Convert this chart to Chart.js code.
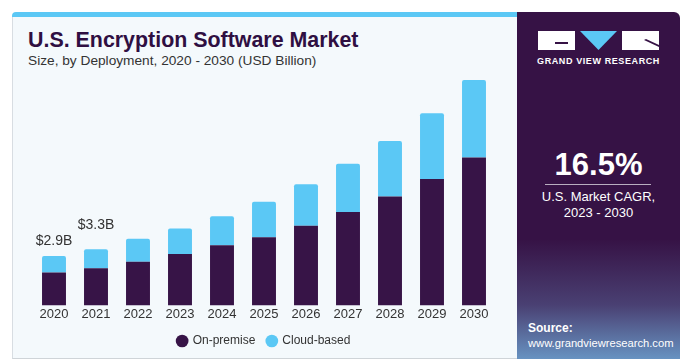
<!DOCTYPE html>
<html>
<head>
<meta charset="utf-8">
<script src="https://cdn.jsdelivr.net/npm/chart.js@4"></script>
<style>
  body { margin: 0; width: 688px; height: 363px; background: #fff; font-family: "Liberation Sans", Arial, sans-serif; position: relative; overflow: hidden; }
  .stripe { position: absolute; left: 12px; top: 12px; width: 505px; height: 5px; background: #5bc8f5; border-top-left-radius: 4px; }
  .left { position: absolute; left: 12px; top: 17px; width: 505px; height: 342px; background: #f4f9fc; border-left: 1px solid #d8dde2; border-bottom: 1px solid #cfd4d8; box-sizing: border-box; }
  .right { position: absolute; left: 517px; top: 12px; width: 163px; height: 347px; background: #361245; border-top-right-radius: 6px; overflow: hidden; }
  .right .fade { position: absolute; left: 0; right: 0; bottom: 0; height: 120px; background: linear-gradient(to bottom, rgba(90,120,180,0) 0%, rgba(110,150,200,0.35) 55%, rgba(120,190,235,0.75) 100%); }
  h1 { position: absolute; left: 28px; top: 28px; margin: 0; font-size: 21.4px; font-weight: bold; color: #2f0f42; }
  .sub { position: absolute; left: 28px; top: 53px; font-size: 13.7px; color: #333; }
  #wrap { position: absolute; left: 12px; top: 59px; width: 504px; height: 298px; }
  .logo { position: absolute; left: 538px; top: 31px; }
  .gvr { position: absolute; left: 517px; width: 163px; top: 56px; text-align: center; color: #fff; font-size: 9px; font-weight: bold; letter-spacing: 0.6px; }
  .big { position: absolute; left: 517px; width: 163px; top: 147px; text-align: center; color: #fff; font-size: 31px; font-weight: bold; }
  .rule { position: absolute; left: 545px; width: 106px; top: 184px; height: 1px; background: #b9aec0; }
  .cagr { position: absolute; left: 517px; width: 163px; top: 189px; text-align: center; color: #fff; font-size: 13px; line-height: 16px; }
  .src { position: absolute; left: 528px; top: 321px; color: #fff; font-size: 11.2px; line-height: 15px; }
  .src b { font-size: 12px; }
</style>
</head>
<body>
<div class="stripe"></div>
<div class="left"></div>
<div class="right"><div class="fade"></div></div>
<h1>U.S. Encryption Software Market</h1>
<div class="sub">Size, by Deployment, 2020 - 2030 (USD Billion)</div>
<div id="wrap"><canvas id="chart"></canvas></div>

<svg class="logo" width="122" height="20" viewBox="0 0 122 20">
  <rect x="0" y="0" width="37" height="19" fill="#fff"/>
  <path d="M17 11 H30 V13 H17 Z" fill="#361245"/>
  <polygon points="42,0 79,0 60.5,19" fill="#5bc8f5"/>
  <rect x="84" y="0" width="37" height="19" fill="#fff"/>
  <path d="M108 8 L121 14 L121 16 L106 9 Z" fill="#361245"/>
</svg>
<div class="gvr">GRAND VIEW RESEARCH</div>
<div class="big">16.5%</div>
<div class="rule"></div>
<div class="cagr">U.S. Market CAGR,<br>2023 - 2030</div>
<div class="src"><b>Source:</b><br>www.grandviewresearch.com</div>

<script>
const years = ["2020", "2021", "2022", "2023", "2024", "2025", "2026", "2027", "2028", "2029", "2030"];
const onPremise = [1.93, 2.18, 2.56, 3.02, 3.53, 4.0, 4.68, 5.48, 6.39, 7.42, 8.69];
const cloudBased = [0.97, 1.12, 1.35, 1.49, 1.71, 2.08, 2.44, 2.84, 3.27, 3.87, 4.54];
const totalLabels = ["$2.9B", "$3.3B"];

// the two labels sit at different heights above their bars
const labelGap = [8, 17];

const valueLabels = {
    id: "valueLabels",
    afterDatasetsDraw(chart) {
        const ctx = chart.ctx;
        const meta = chart.getDatasetMeta(1);
        ctx.save();
        ctx.font = "14px 'Liberation Sans', Arial, sans-serif";
        ctx.fillStyle = "#333";
        ctx.textAlign = "center";
        ctx.textBaseline = "bottom";
        totalLabels.forEach((txt, i) => {
            const bar = meta.data[i];
            ctx.fillText(txt, bar.x, bar.y - labelGap[i]);
        });
        ctx.restore();
    },
};

new Chart(document.getElementById("chart"), {
    type: "bar",
    data: {
        labels: years,
        datasets: [
            {
                label: "On-premise",
                data: onPremise,
                backgroundColor: "#371447",
                borderRadius: 2,
                barPercentage: 0.57,
                categoryPercentage: 1,
            },
            {
                label: "Cloud-based",
                data: cloudBased,
                backgroundColor: "#5bc8f5",
                borderRadius: 2,
                barPercentage: 0.57,
                categoryPercentage: 1,
            },
        ],
    },
    options: {
        responsive: true,
        maintainAspectRatio: false,
        animation: false,
        layout: {
            padding: { left: 21, right: 21, top: 8, bottom: 0 },
        },
        scales: {
            x: {
                stacked: true,
                grid: { display: false, drawTicks: false },
                border: { display: false },
                ticks: {
                    color: "#333",
                    padding: 1,
                    font: { family: "'Liberation Sans', Arial, sans-serif", size: 13 },
                },
            },
            y: {
                stacked: true,
                display: false,
                min: 0,
                max: 14,
            },
        },
        plugins: {
            legend: {
                position: "bottom",
                labels: {
                    usePointStyle: true,
                    pointStyle: "circle",
                    boxWidth: 9,
                    boxHeight: 9,
                    padding: 12,
                    color: "#333",
                    font: { family: "'Liberation Sans', Arial, sans-serif", size: 12 },
                },
            },
            tooltip: { enabled: false },
        },
    },
    plugins: [valueLabels],
});
</script>
</body>
</html>
